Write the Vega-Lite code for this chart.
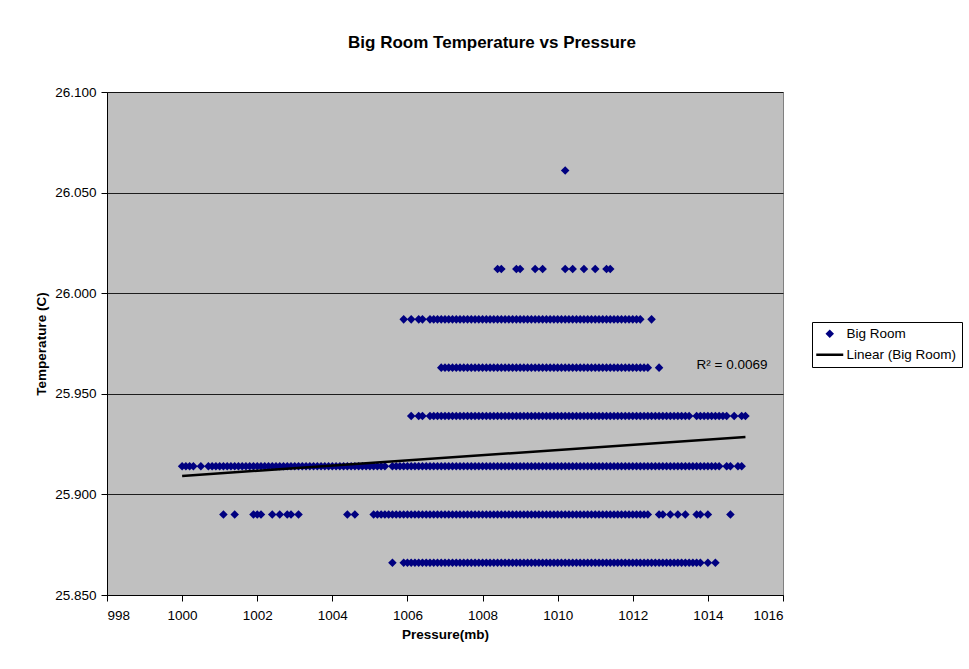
{
  "$schema": "https://vega.github.io/schema/vega-lite/v6.json",
  "width": 676,
  "height": 503,
  "autosize": {"type": "none"},
  "padding": {"left": 107, "top": 92, "right": 186, "bottom": 74},
  "background": "#ffffff",
  "title": {
    "text": "Big Room Temperature vs Pressure",
    "font": "Liberation Sans",
    "fontSize": 17,
    "fontWeight": "bold",
    "color": "#000000",
    "anchor": "middle",
    "frame": "group",
    "dx": 47,
    "offset": 33
  },
  "config": {
    "view": {"fill": "#C0C0C0", "stroke": "#808080", "strokeWidth": 1},
    "axis": {
      "labelFont": "Liberation Sans",
      "labelFontSize": 13.5,
      "labelColor": "#000000",
      "titleFont": "Liberation Sans",
      "titleFontSize": 13.5,
      "titleFontWeight": "bold",
      "titleColor": "#000000",
      "domainColor": "#000000",
      "tickColor": "#000000",
      "tickSize": 6,
      "gridColor": "#000000",
      "gridOpacity": 0.85
    }
  },
  "datasets": {
    "points": [
      {"p":1005.6,"t":25.866},{"p":1005.9,"t":25.866},
      {"p":1006.0,"t":25.866},{"p":1006.1,"t":25.866},{"p":1006.2,"t":25.866},{"p":1006.3,"t":25.866},{"p":1006.4,"t":25.866},{"p":1006.5,"t":25.866},{"p":1006.6,"t":25.866},{"p":1006.7,"t":25.866},{"p":1006.8,"t":25.866},{"p":1006.9,"t":25.866},
      {"p":1007.0,"t":25.866},{"p":1007.1,"t":25.866},{"p":1007.2,"t":25.866},{"p":1007.3,"t":25.866},{"p":1007.4,"t":25.866},{"p":1007.5,"t":25.866},{"p":1007.6,"t":25.866},{"p":1007.7,"t":25.866},{"p":1007.8,"t":25.866},{"p":1007.9,"t":25.866},
      {"p":1008.0,"t":25.866},{"p":1008.1,"t":25.866},{"p":1008.2,"t":25.866},{"p":1008.3,"t":25.866},{"p":1008.4,"t":25.866},{"p":1008.5,"t":25.866},{"p":1008.6,"t":25.866},{"p":1008.7,"t":25.866},{"p":1008.8,"t":25.866},{"p":1008.9,"t":25.866},
      {"p":1009.0,"t":25.866},{"p":1009.1,"t":25.866},{"p":1009.2,"t":25.866},{"p":1009.3,"t":25.866},{"p":1009.4,"t":25.866},{"p":1009.5,"t":25.866},{"p":1009.6,"t":25.866},{"p":1009.7,"t":25.866},{"p":1009.8,"t":25.866},{"p":1009.9,"t":25.866},
      {"p":1010.0,"t":25.866},{"p":1010.1,"t":25.866},{"p":1010.2,"t":25.866},{"p":1010.3,"t":25.866},{"p":1010.4,"t":25.866},{"p":1010.5,"t":25.866},{"p":1010.6,"t":25.866},{"p":1010.7,"t":25.866},{"p":1010.8,"t":25.866},{"p":1010.9,"t":25.866},
      {"p":1011.0,"t":25.866},{"p":1011.1,"t":25.866},{"p":1011.2,"t":25.866},{"p":1011.3,"t":25.866},{"p":1011.4,"t":25.866},{"p":1011.5,"t":25.866},{"p":1011.6,"t":25.866},{"p":1011.7,"t":25.866},{"p":1011.8,"t":25.866},{"p":1011.9,"t":25.866},
      {"p":1012.0,"t":25.866},{"p":1012.1,"t":25.866},{"p":1012.2,"t":25.866},{"p":1012.3,"t":25.866},{"p":1012.4,"t":25.866},{"p":1012.5,"t":25.866},{"p":1012.6,"t":25.866},{"p":1012.7,"t":25.866},{"p":1012.8,"t":25.866},{"p":1012.9,"t":25.866},
      {"p":1013.0,"t":25.866},{"p":1013.1,"t":25.866},{"p":1013.2,"t":25.866},{"p":1013.3,"t":25.866},{"p":1013.4,"t":25.866},{"p":1013.5,"t":25.866},{"p":1013.6,"t":25.866},{"p":1013.7,"t":25.866},{"p":1013.8,"t":25.866},
      {"p":1014.0,"t":25.866},{"p":1014.2,"t":25.866},

      {"p":1001.1,"t":25.890},{"p":1001.4,"t":25.890},{"p":1001.9,"t":25.890},{"p":1002.0,"t":25.890},{"p":1002.1,"t":25.890},{"p":1002.4,"t":25.890},{"p":1002.6,"t":25.890},{"p":1002.8,"t":25.890},{"p":1002.9,"t":25.890},{"p":1003.1,"t":25.890},{"p":1004.4,"t":25.890},{"p":1004.6,"t":25.890},
      {"p":1005.1,"t":25.890},{"p":1005.2,"t":25.890},{"p":1005.3,"t":25.890},{"p":1005.4,"t":25.890},{"p":1005.5,"t":25.890},{"p":1005.6,"t":25.890},{"p":1005.7,"t":25.890},{"p":1005.8,"t":25.890},{"p":1005.9,"t":25.890},
      {"p":1006.0,"t":25.890},{"p":1006.1,"t":25.890},{"p":1006.2,"t":25.890},{"p":1006.3,"t":25.890},{"p":1006.4,"t":25.890},{"p":1006.5,"t":25.890},{"p":1006.6,"t":25.890},{"p":1006.7,"t":25.890},{"p":1006.8,"t":25.890},{"p":1006.9,"t":25.890},
      {"p":1007.0,"t":25.890},{"p":1007.1,"t":25.890},{"p":1007.2,"t":25.890},{"p":1007.3,"t":25.890},{"p":1007.4,"t":25.890},{"p":1007.5,"t":25.890},{"p":1007.6,"t":25.890},{"p":1007.7,"t":25.890},{"p":1007.8,"t":25.890},{"p":1007.9,"t":25.890},
      {"p":1008.0,"t":25.890},{"p":1008.1,"t":25.890},{"p":1008.2,"t":25.890},{"p":1008.3,"t":25.890},{"p":1008.4,"t":25.890},{"p":1008.5,"t":25.890},{"p":1008.6,"t":25.890},{"p":1008.7,"t":25.890},{"p":1008.8,"t":25.890},{"p":1008.9,"t":25.890},
      {"p":1009.0,"t":25.890},{"p":1009.1,"t":25.890},{"p":1009.2,"t":25.890},{"p":1009.3,"t":25.890},{"p":1009.4,"t":25.890},{"p":1009.5,"t":25.890},{"p":1009.6,"t":25.890},{"p":1009.7,"t":25.890},{"p":1009.8,"t":25.890},{"p":1009.9,"t":25.890},
      {"p":1010.0,"t":25.890},{"p":1010.1,"t":25.890},{"p":1010.2,"t":25.890},{"p":1010.3,"t":25.890},{"p":1010.4,"t":25.890},{"p":1010.5,"t":25.890},{"p":1010.6,"t":25.890},{"p":1010.7,"t":25.890},{"p":1010.8,"t":25.890},{"p":1010.9,"t":25.890},
      {"p":1011.0,"t":25.890},{"p":1011.1,"t":25.890},{"p":1011.2,"t":25.890},{"p":1011.3,"t":25.890},{"p":1011.4,"t":25.890},{"p":1011.5,"t":25.890},{"p":1011.6,"t":25.890},{"p":1011.7,"t":25.890},{"p":1011.8,"t":25.890},{"p":1011.9,"t":25.890},
      {"p":1012.0,"t":25.890},{"p":1012.1,"t":25.890},{"p":1012.2,"t":25.890},{"p":1012.3,"t":25.890},{"p":1012.4,"t":25.890},
      {"p":1012.7,"t":25.890},{"p":1012.8,"t":25.890},{"p":1013.0,"t":25.890},{"p":1013.2,"t":25.890},{"p":1013.4,"t":25.890},{"p":1013.7,"t":25.890},{"p":1013.8,"t":25.890},{"p":1014.0,"t":25.890},{"p":1014.6,"t":25.890},

      {"p":1000.0,"t":25.914},{"p":1000.1,"t":25.914},{"p":1000.2,"t":25.914},{"p":1000.3,"t":25.914},{"p":1000.5,"t":25.914},{"p":1000.7,"t":25.914},{"p":1000.8,"t":25.914},{"p":1000.9,"t":25.914},
      {"p":1001.0,"t":25.914},{"p":1001.1,"t":25.914},{"p":1001.2,"t":25.914},{"p":1001.3,"t":25.914},{"p":1001.4,"t":25.914},{"p":1001.5,"t":25.914},{"p":1001.6,"t":25.914},{"p":1001.7,"t":25.914},{"p":1001.8,"t":25.914},{"p":1001.9,"t":25.914},
      {"p":1002.0,"t":25.914},{"p":1002.1,"t":25.914},{"p":1002.2,"t":25.914},{"p":1002.3,"t":25.914},{"p":1002.4,"t":25.914},{"p":1002.5,"t":25.914},{"p":1002.6,"t":25.914},{"p":1002.7,"t":25.914},{"p":1002.8,"t":25.914},{"p":1002.9,"t":25.914},
      {"p":1003.0,"t":25.914},{"p":1003.1,"t":25.914},{"p":1003.2,"t":25.914},{"p":1003.3,"t":25.914},{"p":1003.4,"t":25.914},{"p":1003.5,"t":25.914},{"p":1003.6,"t":25.914},{"p":1003.7,"t":25.914},{"p":1003.8,"t":25.914},{"p":1003.9,"t":25.914},
      {"p":1004.0,"t":25.914},{"p":1004.1,"t":25.914},{"p":1004.2,"t":25.914},{"p":1004.3,"t":25.914},{"p":1004.4,"t":25.914},{"p":1004.5,"t":25.914},{"p":1004.6,"t":25.914},{"p":1004.7,"t":25.914},{"p":1004.8,"t":25.914},{"p":1004.9,"t":25.914},
      {"p":1005.0,"t":25.914},{"p":1005.1,"t":25.914},{"p":1005.2,"t":25.914},{"p":1005.3,"t":25.914},{"p":1005.4,"t":25.914},{"p":1005.6,"t":25.914},{"p":1005.7,"t":25.914},{"p":1005.8,"t":25.914},{"p":1005.9,"t":25.914},
      {"p":1006.0,"t":25.914},{"p":1006.1,"t":25.914},{"p":1006.2,"t":25.914},{"p":1006.3,"t":25.914},{"p":1006.4,"t":25.914},{"p":1006.5,"t":25.914},{"p":1006.6,"t":25.914},{"p":1006.7,"t":25.914},{"p":1006.8,"t":25.914},{"p":1006.9,"t":25.914},
      {"p":1007.0,"t":25.914},{"p":1007.1,"t":25.914},{"p":1007.2,"t":25.914},{"p":1007.3,"t":25.914},{"p":1007.4,"t":25.914},{"p":1007.5,"t":25.914},{"p":1007.6,"t":25.914},{"p":1007.7,"t":25.914},{"p":1007.8,"t":25.914},{"p":1007.9,"t":25.914},
      {"p":1008.0,"t":25.914},{"p":1008.1,"t":25.914},{"p":1008.2,"t":25.914},{"p":1008.3,"t":25.914},{"p":1008.4,"t":25.914},{"p":1008.5,"t":25.914},{"p":1008.6,"t":25.914},{"p":1008.7,"t":25.914},{"p":1008.8,"t":25.914},{"p":1008.9,"t":25.914},
      {"p":1009.0,"t":25.914},{"p":1009.1,"t":25.914},{"p":1009.2,"t":25.914},{"p":1009.3,"t":25.914},{"p":1009.4,"t":25.914},{"p":1009.5,"t":25.914},{"p":1009.6,"t":25.914},{"p":1009.7,"t":25.914},{"p":1009.8,"t":25.914},{"p":1009.9,"t":25.914},
      {"p":1010.0,"t":25.914},{"p":1010.1,"t":25.914},{"p":1010.2,"t":25.914},{"p":1010.3,"t":25.914},{"p":1010.4,"t":25.914},{"p":1010.5,"t":25.914},{"p":1010.6,"t":25.914},{"p":1010.7,"t":25.914},{"p":1010.8,"t":25.914},{"p":1010.9,"t":25.914},
      {"p":1011.0,"t":25.914},{"p":1011.1,"t":25.914},{"p":1011.2,"t":25.914},{"p":1011.3,"t":25.914},{"p":1011.4,"t":25.914},{"p":1011.5,"t":25.914},{"p":1011.6,"t":25.914},{"p":1011.7,"t":25.914},{"p":1011.8,"t":25.914},{"p":1011.9,"t":25.914},
      {"p":1012.0,"t":25.914},{"p":1012.1,"t":25.914},{"p":1012.2,"t":25.914},{"p":1012.3,"t":25.914},{"p":1012.4,"t":25.914},{"p":1012.5,"t":25.914},{"p":1012.6,"t":25.914},{"p":1012.7,"t":25.914},{"p":1012.8,"t":25.914},{"p":1012.9,"t":25.914},
      {"p":1013.0,"t":25.914},{"p":1013.1,"t":25.914},{"p":1013.2,"t":25.914},{"p":1013.3,"t":25.914},{"p":1013.4,"t":25.914},{"p":1013.5,"t":25.914},{"p":1013.6,"t":25.914},{"p":1013.7,"t":25.914},{"p":1013.8,"t":25.914},{"p":1013.9,"t":25.914},
      {"p":1014.0,"t":25.914},{"p":1014.1,"t":25.914},{"p":1014.2,"t":25.914},{"p":1014.3,"t":25.914},{"p":1014.5,"t":25.914},{"p":1014.6,"t":25.914},{"p":1014.8,"t":25.914},{"p":1014.9,"t":25.914},

      {"p":1006.1,"t":25.939},{"p":1006.3,"t":25.939},{"p":1006.4,"t":25.939},{"p":1006.6,"t":25.939},{"p":1006.7,"t":25.939},{"p":1006.8,"t":25.939},{"p":1006.9,"t":25.939},
      {"p":1007.0,"t":25.939},{"p":1007.1,"t":25.939},{"p":1007.2,"t":25.939},{"p":1007.3,"t":25.939},{"p":1007.4,"t":25.939},{"p":1007.5,"t":25.939},{"p":1007.6,"t":25.939},{"p":1007.7,"t":25.939},{"p":1007.8,"t":25.939},{"p":1007.9,"t":25.939},
      {"p":1008.0,"t":25.939},{"p":1008.1,"t":25.939},{"p":1008.2,"t":25.939},{"p":1008.3,"t":25.939},{"p":1008.4,"t":25.939},{"p":1008.5,"t":25.939},{"p":1008.6,"t":25.939},{"p":1008.7,"t":25.939},{"p":1008.8,"t":25.939},{"p":1008.9,"t":25.939},
      {"p":1009.0,"t":25.939},{"p":1009.1,"t":25.939},{"p":1009.2,"t":25.939},{"p":1009.3,"t":25.939},{"p":1009.4,"t":25.939},{"p":1009.5,"t":25.939},{"p":1009.6,"t":25.939},{"p":1009.7,"t":25.939},{"p":1009.8,"t":25.939},{"p":1009.9,"t":25.939},
      {"p":1010.0,"t":25.939},{"p":1010.1,"t":25.939},{"p":1010.2,"t":25.939},{"p":1010.3,"t":25.939},{"p":1010.4,"t":25.939},{"p":1010.5,"t":25.939},{"p":1010.6,"t":25.939},{"p":1010.7,"t":25.939},{"p":1010.8,"t":25.939},{"p":1010.9,"t":25.939},
      {"p":1011.0,"t":25.939},{"p":1011.1,"t":25.939},{"p":1011.2,"t":25.939},{"p":1011.3,"t":25.939},{"p":1011.4,"t":25.939},{"p":1011.5,"t":25.939},{"p":1011.6,"t":25.939},{"p":1011.7,"t":25.939},{"p":1011.8,"t":25.939},{"p":1011.9,"t":25.939},
      {"p":1012.0,"t":25.939},{"p":1012.1,"t":25.939},{"p":1012.2,"t":25.939},{"p":1012.3,"t":25.939},{"p":1012.4,"t":25.939},{"p":1012.5,"t":25.939},{"p":1012.6,"t":25.939},{"p":1012.7,"t":25.939},{"p":1012.8,"t":25.939},{"p":1012.9,"t":25.939},
      {"p":1013.0,"t":25.939},{"p":1013.1,"t":25.939},{"p":1013.2,"t":25.939},{"p":1013.3,"t":25.939},{"p":1013.4,"t":25.939},{"p":1013.5,"t":25.939},{"p":1013.7,"t":25.939},{"p":1013.8,"t":25.939},{"p":1013.9,"t":25.939},
      {"p":1014.0,"t":25.939},{"p":1014.1,"t":25.939},{"p":1014.2,"t":25.939},{"p":1014.3,"t":25.939},{"p":1014.4,"t":25.939},{"p":1014.5,"t":25.939},{"p":1014.7,"t":25.939},{"p":1014.9,"t":25.939},{"p":1015.0,"t":25.939},

      {"p":1006.9,"t":25.963},
      {"p":1007.0,"t":25.963},{"p":1007.1,"t":25.963},{"p":1007.2,"t":25.963},{"p":1007.3,"t":25.963},{"p":1007.4,"t":25.963},{"p":1007.5,"t":25.963},{"p":1007.6,"t":25.963},{"p":1007.7,"t":25.963},{"p":1007.8,"t":25.963},{"p":1007.9,"t":25.963},
      {"p":1008.0,"t":25.963},{"p":1008.1,"t":25.963},{"p":1008.2,"t":25.963},{"p":1008.3,"t":25.963},{"p":1008.4,"t":25.963},{"p":1008.5,"t":25.963},{"p":1008.6,"t":25.963},{"p":1008.7,"t":25.963},{"p":1008.8,"t":25.963},{"p":1008.9,"t":25.963},
      {"p":1009.0,"t":25.963},{"p":1009.1,"t":25.963},{"p":1009.2,"t":25.963},{"p":1009.3,"t":25.963},{"p":1009.4,"t":25.963},{"p":1009.5,"t":25.963},{"p":1009.6,"t":25.963},{"p":1009.7,"t":25.963},{"p":1009.8,"t":25.963},{"p":1009.9,"t":25.963},
      {"p":1010.0,"t":25.963},{"p":1010.1,"t":25.963},{"p":1010.2,"t":25.963},{"p":1010.3,"t":25.963},{"p":1010.4,"t":25.963},{"p":1010.5,"t":25.963},{"p":1010.6,"t":25.963},{"p":1010.7,"t":25.963},{"p":1010.8,"t":25.963},{"p":1010.9,"t":25.963},
      {"p":1011.0,"t":25.963},{"p":1011.1,"t":25.963},{"p":1011.2,"t":25.963},{"p":1011.3,"t":25.963},{"p":1011.4,"t":25.963},{"p":1011.5,"t":25.963},{"p":1011.6,"t":25.963},{"p":1011.7,"t":25.963},{"p":1011.8,"t":25.963},{"p":1011.9,"t":25.963},
      {"p":1012.0,"t":25.963},{"p":1012.1,"t":25.963},{"p":1012.2,"t":25.963},{"p":1012.3,"t":25.963},{"p":1012.4,"t":25.963},{"p":1012.7,"t":25.963},

      {"p":1005.9,"t":25.987},{"p":1006.1,"t":25.987},{"p":1006.3,"t":25.987},{"p":1006.4,"t":25.987},{"p":1006.6,"t":25.987},{"p":1006.7,"t":25.987},{"p":1006.8,"t":25.987},{"p":1006.9,"t":25.987},
      {"p":1007.0,"t":25.987},{"p":1007.1,"t":25.987},{"p":1007.2,"t":25.987},{"p":1007.3,"t":25.987},{"p":1007.4,"t":25.987},{"p":1007.5,"t":25.987},{"p":1007.6,"t":25.987},{"p":1007.7,"t":25.987},{"p":1007.8,"t":25.987},{"p":1007.9,"t":25.987},
      {"p":1008.0,"t":25.987},{"p":1008.1,"t":25.987},{"p":1008.2,"t":25.987},{"p":1008.3,"t":25.987},{"p":1008.4,"t":25.987},{"p":1008.5,"t":25.987},{"p":1008.6,"t":25.987},{"p":1008.7,"t":25.987},{"p":1008.8,"t":25.987},{"p":1008.9,"t":25.987},
      {"p":1009.0,"t":25.987},{"p":1009.1,"t":25.987},{"p":1009.2,"t":25.987},{"p":1009.3,"t":25.987},{"p":1009.4,"t":25.987},{"p":1009.5,"t":25.987},{"p":1009.6,"t":25.987},{"p":1009.7,"t":25.987},{"p":1009.8,"t":25.987},{"p":1009.9,"t":25.987},
      {"p":1010.0,"t":25.987},{"p":1010.1,"t":25.987},{"p":1010.2,"t":25.987},{"p":1010.3,"t":25.987},{"p":1010.4,"t":25.987},{"p":1010.5,"t":25.987},{"p":1010.6,"t":25.987},{"p":1010.7,"t":25.987},{"p":1010.8,"t":25.987},{"p":1010.9,"t":25.987},
      {"p":1011.0,"t":25.987},{"p":1011.1,"t":25.987},{"p":1011.2,"t":25.987},{"p":1011.3,"t":25.987},{"p":1011.4,"t":25.987},{"p":1011.5,"t":25.987},{"p":1011.6,"t":25.987},{"p":1011.7,"t":25.987},{"p":1011.8,"t":25.987},{"p":1011.9,"t":25.987},
      {"p":1012.0,"t":25.987},{"p":1012.1,"t":25.987},{"p":1012.2,"t":25.987},{"p":1012.5,"t":25.987},

      {"p":1008.4,"t":26.012},{"p":1008.5,"t":26.012},{"p":1008.9,"t":26.012},{"p":1009.0,"t":26.012},{"p":1009.4,"t":26.012},{"p":1009.6,"t":26.012},{"p":1010.2,"t":26.012},{"p":1010.4,"t":26.012},{"p":1010.7,"t":26.012},{"p":1011.0,"t":26.012},{"p":1011.3,"t":26.012},{"p":1011.4,"t":26.012},

      {"p":1010.2,"t":26.061}
    ],
    "trend": [
      {"p":1000.0,"t":25.9092},
      {"p":1015.0,"t":25.9285}
    ],
    "note": [
      {"p":1013.7,"t":25.9643,"label":"R² = 0.0069"}
    ]
  },
  "layer": [
    {
      "data": {"name": "points"},
      "mark": {"type": "point", "filled": true, "size": 81, "opacity": 1, "strokeWidth": 2.5},
      "encoding": {
        "x": {
          "field": "p", "type": "quantitative",
          "scale": {"domain": [998, 1016], "nice": false, "zero": false},
          "axis": {
            "title": "Pressure(mb)",
            "values": [998, 1000, 1002, 1004, 1006, 1008, 1010, 1012, 1014, 1016],
            "format": "d",
            "grid": false,
            "labelPadding": 7,
            "titlePadding": 6
          }
        },
        "y": {
          "field": "t", "type": "quantitative",
          "scale": {"domain": [25.85, 26.1], "nice": false, "zero": false},
          "axis": {
            "title": "Temperature (C)",
            "values": [25.85, 25.9, 25.95, 26.0, 26.05, 26.1],
            "format": ".3f",
            "grid": true,
            "labelPadding": 5,
            "titlePadding": 6
          }
        },
        "shape": {
          "datum": "Big Room", "type": "nominal",
          "scale": {"domain": ["Big Room", "Linear (Big Room)"], "range": ["M-0.95,0L0,-0.95L0.95,0L0,0.95Z", "M-3,0L3,0"]},
          "legend": {
            "title": null,
            "orient": "none",
            "legendX": 705,
            "legendY": 230,
            "strokeColor": "#000000",
            "fillColor": "#ffffff",
            "padding": 5,
            "symbolSize": 81,
            "symbolStrokeWidth": 2.5,
            "symbolOffset": 6,
            "labelOffset": 10,
            "labelFont": "Liberation Sans",
            "labelFontSize": 13.5,
            "labelColor": "#000000",
            "rowPadding": 3
          }
        },
        "fill": {
          "datum": "Big Room", "type": "nominal",
          "scale": {"domain": ["Big Room", "Linear (Big Room)"], "range": ["#000080", "transparent"]}
        },
        "stroke": {
          "datum": "Big Room", "type": "nominal",
          "scale": {"domain": ["Big Room", "Linear (Big Room)"], "range": ["transparent", "#000000"]}
        }
      }
    },
    {
      "data": {"name": "trend"},
      "mark": {"type": "line", "color": "#000000", "strokeWidth": 2.5},
      "encoding": {
        "x": {"field": "p", "type": "quantitative"},
        "y": {"field": "t", "type": "quantitative"}
      }
    },
    {
      "data": {"name": "note"},
      "mark": {"type": "text", "align": "left", "baseline": "middle", "font": "Liberation Sans", "fontSize": 13.5, "color": "#000000"},
      "encoding": {
        "x": {"field": "p", "type": "quantitative"},
        "y": {"field": "t", "type": "quantitative"},
        "text": {"field": "label"}
      }
    }
  ]
}
